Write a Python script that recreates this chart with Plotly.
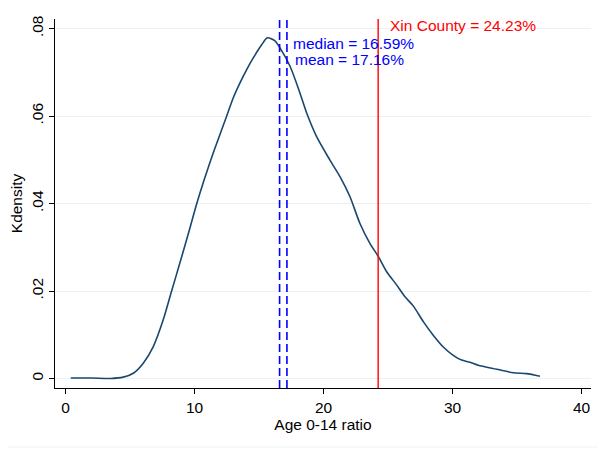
import plotly.graph_objects as go

# KDE curve
age_ratio = [0.4, 2.0, 3.5, 4.47, 5.25, 6.02, 6.8, 7.57, 8.22, 8.87, 9.64, 10.16, 10.75,
             11.45, 12.49, 13.0, 13.52, 14.05, 14.55, 15.2, 15.64, 16.23, 16.62, 17.4,
             18.12, 18.69, 19.46, 20.48, 21.26, 22.04, 22.81, 23.59, 24.24, 24.89, 25.66,
             26.31, 26.95, 27.73, 28.5, 29.28, 30.05, 30.7, 31.35, 31.99, 33.42, 34.71,
             35.74, 36.77]
density = [0.0001, 0.0001, 0.0000, 0.0003, 0.0012, 0.0035, 0.0073, 0.0134, 0.0200, 0.0265,
           0.0344, 0.0399, 0.0455, 0.0516, 0.0600, 0.0642, 0.0676, 0.0707, 0.0733, 0.0763,
           0.0779, 0.0772, 0.0756, 0.0714, 0.0657, 0.0607, 0.0553, 0.0500, 0.0462, 0.0416,
           0.0355, 0.0309, 0.0279, 0.0244, 0.0214, 0.0187, 0.0166, 0.0130, 0.0099, 0.0072,
           0.0053, 0.0042, 0.0037, 0.0030, 0.0021, 0.0013, 0.0011, 0.0005]

median_val = 16.59
mean_val = 17.16
county_val = 24.23
county_name = "Xin County"

x_ticks = [0, 10, 20, 30, 40]
y_ticks = [0, 0.02, 0.04, 0.06, 0.08]
y_ticktext = ["0", ".02", ".04", ".06", ".08"]

navy = "#1a476f"
grid = "#eaf2f3"
font_family = "Liberation Sans, Arial, sans-serif"
fs = 15.5

W, H = 605, 449
ML, MR, MT, MB = 47, 22, 11, 69   # page body adds an 8px offset

fig = go.Figure()
fig.add_trace(go.Scatter(x=age_ratio, y=density, mode="lines",
                         line=dict(color=navy, width=1.6, shape="spline", smoothing=0.7),
                         showlegend=False, hoverinfo="skip"))

for v in (median_val, mean_val):
    fig.add_shape(type="line", xref="x", yref="paper", x0=v, x1=v, y0=0, y1=1,
                  line=dict(color="#0000FF", width=1.6, dash="8px,4px"))
fig.add_shape(type="line", xref="x", yref="paper", x0=county_val, x1=county_val, y0=0, y1=1,
              line=dict(color="#FF0000", width=1.4))

# faint graph-region border line near the bottom
yb = (H - MB - 439) / (H - MT - MB)
fig.add_shape(type="line", xref="paper", yref="paper", x0=-0.2, x1=1.2, y0=yb, y1=yb,
              line=dict(color=grid, width=1))

fig.add_annotation(x=county_val + 0.76, y=0.0808, xref="x", yref="y", xanchor="left",
                   text=f"{county_name} = {county_val:.2f}%", showarrow=False,
                   font=dict(color="#FF0000", size=fs, family=font_family))
fig.add_annotation(x=median_val + 0.88, y=0.0766, xref="x", yref="y", xanchor="left",
                   text=f"median = {median_val:.2f}%", showarrow=False,
                   font=dict(color="#0000FF", size=fs, family=font_family))
fig.add_annotation(x=mean_val + 0.47, y=0.0730, xref="x", yref="y", xanchor="left",
                   text=f"mean = {mean_val:.2f}%", showarrow=False,
                   font=dict(color="#0000FF", size=fs, family=font_family))

fig.update_layout(
    width=W, height=H,
    margin=dict(l=ML, r=MR, t=MT, b=MB, autoexpand=False),
    paper_bgcolor="white", plot_bgcolor="white",
    font=dict(family=font_family, size=fs, color="black"),
    xaxis=dict(range=[-0.82, 40.73], tickvals=x_ticks, showgrid=False, zeroline=False,
               showline=True, linecolor="black", linewidth=1.2, automargin=False,
               ticks="outside", ticklen=5, tickcolor="black",
               title=dict(text="Age 0-14 ratio", standoff=2, font=dict(size=fs))),
    yaxis=dict(range=[-0.00218, 0.0822], tickvals=y_ticks, ticktext=y_ticktext,
               tickangle=-90, showgrid=True, gridcolor=grid, gridwidth=1, zeroline=False,
               showline=True, linecolor="black", linewidth=1.2, automargin=False,
               ticks="outside", ticklen=5, tickcolor="black",
               title=dict(text="Kdensity", standoff=4, font=dict(size=fs))),
)

fig.write_html("out.html")
